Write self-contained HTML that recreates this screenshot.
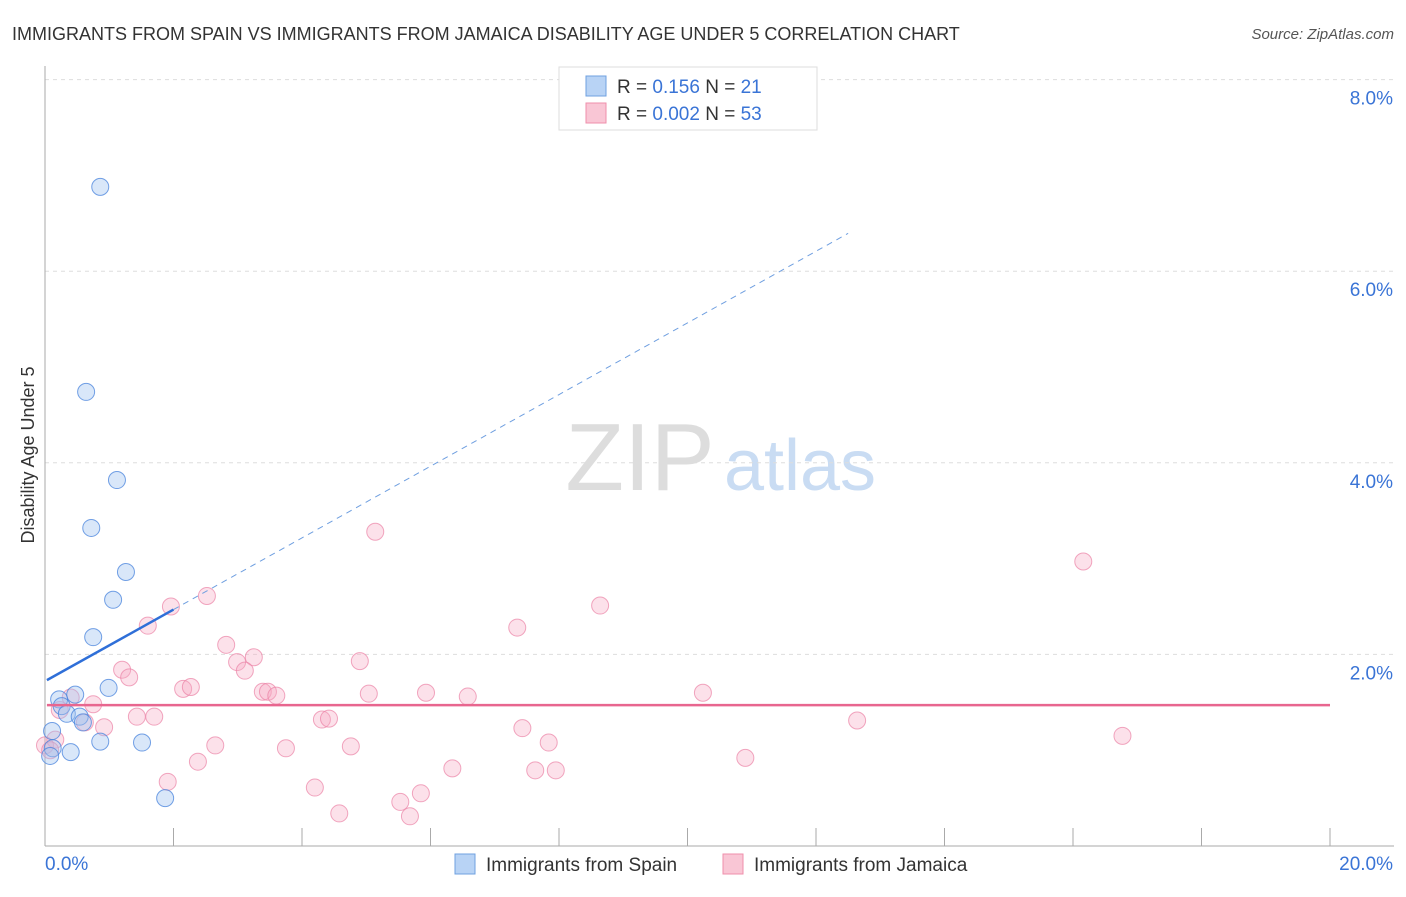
<!DOCTYPE html>
<html><head><meta charset="utf-8"><style>
body{margin:0;background:#fff;font-family:"Liberation Sans",sans-serif;}
svg text{font-family:"Liberation Sans",sans-serif;}
</style></head><body>
<svg id="c" width="1406" height="892" xmlns="http://www.w3.org/2000/svg">
<text x="12" y="40" font-size="18" fill="#333">IMMIGRANTS FROM SPAIN VS IMMIGRANTS FROM JAMAICA DISABILITY AGE UNDER 5 CORRELATION CHART</text>
<text x="1394" y="39" font-size="15" fill="#555" font-style="italic" text-anchor="end">Source: ZipAtlas.com</text>
<text x="640" y="490" font-size="96" fill="#ddd" font-family="Liberation Serif" text-anchor="middle">ZIP</text>
<text x="800" y="490" font-size="72" fill="#c9dcf3" text-anchor="middle">atlas</text>
<text transform="translate(34,455) rotate(-90)" font-size="18" fill="#333" text-anchor="middle">Disability Age Under 5</text>
<g id="grid"></g><g id="pts"></g><g id="lines"></g>
<g>
<rect x="559" y="67" width="258" height="63" fill="#fff" stroke="#ddd"/>
<rect x="586" y="76" width="20" height="20" fill="#b8d3f5" stroke="#6fa0e0"/>
<rect x="586" y="103" width="20" height="20" fill="#f9c6d5" stroke="#ef8fab"/>
<text x="617" y="93" font-size="19" fill="#333">R = <tspan fill="#3a74d6"> 0.156</tspan>   N =  <tspan fill="#3a74d6">21</tspan></text>
<text x="617" y="120" font-size="19" fill="#333">R = <tspan fill="#3a74d6">0.002</tspan>   N = <tspan fill="#3a74d6">53</tspan></text>
</g>
<g>
<rect x="455" y="854" width="20" height="20" fill="#b8d3f5" stroke="#6fa0e0"/>
<text x="486" y="871" font-size="19" fill="#333">Immigrants from Spain</text>
<rect x="723" y="854" width="20" height="20" fill="#f9c6d5" stroke="#ef8fab"/>
<text x="754" y="871" font-size="19" fill="#333">Immigrants from Jamaica</text>
</g>
</svg>
<script>
const spainX=[0.86,0.64,1.12,0.72,1.26,1.06,0.75,0.99,0.22,0.47,0.26,0.34,0.54,0.59,0.11,0.86,1.51,0.12,0.40,0.08,1.87];
const spainY=[6.88,4.74,3.82,3.32,2.86,2.57,2.18,1.65,1.53,1.58,1.46,1.38,1.35,1.29,1.20,1.09,1.08,1.02,0.98,0.94,0.50];
const jamX=[5.14,16.16,2.52,8.64,1.96,1.60,7.35,2.82,3.25,2.99,4.90,1.20,3.11,1.31,2.15,2.27,3.39,3.47,3.60,5.04,5.93,6.58,10.24,0.75,0.40,0.23,0.62,0.92,1.43,1.70,4.31,4.42,12.64,7.43,2.65,3.75,4.76,7.84,16.77,0.0,0.16,2.38,10.90,6.34,7.63,7.95,1.91,4.20,4.58,5.53,5.85,5.68,0.08];
const jamY=[3.28,2.97,2.61,2.51,2.50,2.30,2.28,2.10,1.97,1.92,1.93,1.84,1.83,1.76,1.64,1.66,1.61,1.61,1.57,1.59,1.60,1.56,1.60,1.48,1.55,1.42,1.29,1.24,1.35,1.35,1.32,1.33,1.31,1.23,1.05,1.02,1.04,1.08,1.15,1.05,1.11,0.88,0.92,0.81,0.79,0.79,0.67,0.61,0.34,0.46,0.55,0.31,1.00];
const yTicks=[2,4,6,8];
const xTickLabels=["0.0%","20.0%"];
const spainFit=[1.72,0.374]; // intercept, slope
const jamFit=[1.47,0.0];
const NS="http://www.w3.org/2000/svg";
const X=v=>45+v*64.25, Y=v=>846-v*95.8;
function mk(t,a,p){const e=document.createElementNS(NS,t);for(const k in a)e.setAttribute(k,a[k]);p.appendChild(e);return e;}
const g=document.getElementById('grid');
yTicks.forEach(t=>{
 const l=mk('line',{x1:45,x2:1394,y1:Y(t),y2:Y(t),stroke:'#ddd','stroke-dasharray':'4,4'},g);
 
 
 const tx=mk('text',{x:1393,y:Y(t)+25,'font-size':19,fill:'#3a74d6','text-anchor':'end'},g);
 tx.textContent=t.toFixed(1)+'%';
 
 
});
const ax=mk('line',{x1:45,x2:45,y1:66,y2:846,stroke:'#aaa'},g);


const bx=mk('line',{x1:45,x2:1394,y1:846,y2:846,stroke:'#aaa'},g);


for(let i=2;i<=20;i+=2){const t=mk('line',{x1:X(i),x2:X(i),y1:828,y2:846,stroke:'#aaa'},g);
 
 }
[[0,69,'start'],[20,1393,'end']].forEach((d,i)=>{const t=mk('text',{x:i?1393:45,y:870,'font-size':19,fill:'#3a74d6','text-anchor':d[2]},g);
 t.textContent=xTickLabels[i];
 
 });
const p=document.getElementById('pts');
jamX.forEach((v,i)=>{const c=mk('circle',{cx:X(v),cy:Y(jamY[i]),r:8.5,fill:'rgba(246,170,195,0.35)',stroke:'rgba(235,130,165,0.7)'},p);
 
 });
spainX.forEach((v,i)=>{const c=mk('circle',{cx:X(v),cy:Y(spainY[i]),r:8.5,fill:'rgba(160,195,240,0.4)',stroke:'rgba(70,130,220,0.75)'},p);
 
 });
const L=document.getElementById('lines');
const s1=mk('line',{x1:X(0.03),y1:Y(spainFit[0]+spainFit[1]*0.03),x2:X(2),y2:Y(spainFit[0]+spainFit[1]*2),stroke:'#2f6fd8','stroke-width':2.5},L);


const s2=mk('line',{x1:X(2),y1:Y(spainFit[0]+spainFit[1]*2),x2:X(12.5),y2:Y(spainFit[0]+spainFit[1]*12.5),stroke:'#6f9fe0','stroke-width':1,'stroke-dasharray':'6,5'},L);


const j1=mk('line',{x1:X(0.03),y1:Y(jamFit[0]),x2:X(20),y2:Y(jamFit[0]+jamFit[1]*20),stroke:'#e8668f','stroke-width':2.5},L);


</script>
</body></html>
